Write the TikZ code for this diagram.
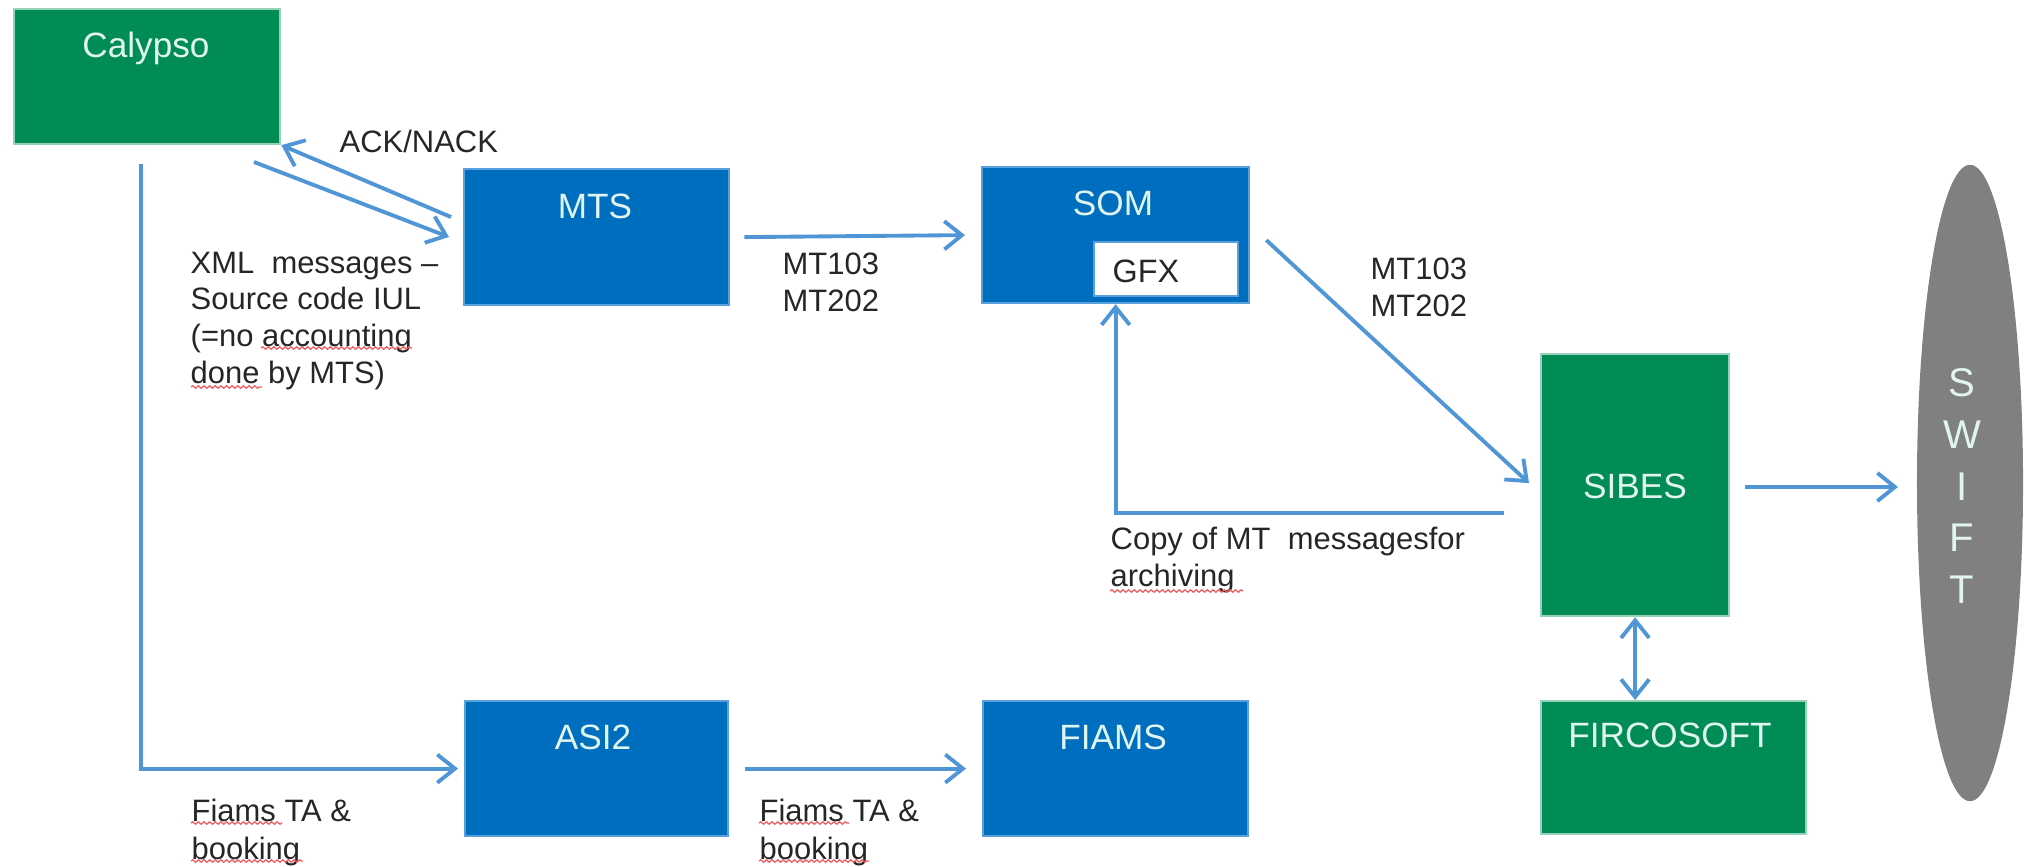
\documentclass[tikz,border=0pt]{standalone}
\usepackage{fontspec}
\setmainfont{Liberation Sans}
\usetikzlibrary{arrows.meta,shapes.geometric,decorations.pathmorphing}
\definecolor{boxgreen}{RGB}{0,140,84}
\definecolor{boxblue}{RGB}{0,110,190}
\definecolor{linkblue}{RGB}{80,150,215}
\definecolor{swiftgray}{RGB}{128,128,128}
\definecolor{bluerim}{RGB}{90,160,220}
\definecolor{greenrim}{RGB}{150,210,185}
\definecolor{txtlight}{RGB}{225,245,240}
\definecolor{spellred}{RGB}{240,90,90}
\begin{document}
\begin{tikzpicture}[x=0.01cm,y=-0.01cm,
  bluebox/.style={draw=bluerim, line width=0.6pt, fill=boxblue, anchor=north west, inner sep=0pt},
  greenbox/.style={draw=greenrim, line width=0.6pt, fill=boxgreen, anchor=north west, inner sep=0pt},
  boxtxt/.style={text=txtlight, font=\fontsize{10}{12}\selectfont, inner sep=0pt, anchor=base},
  lbl/.style={text=black!85, font=\fontsize{8.8}{10.5}\selectfont, align=left, anchor=north west, inner sep=0pt},
  link/.style={draw=linkblue, line width=1.1pt, -{Straight Barb[length=5pt,width=8pt]}},
  both/.style={draw=linkblue, line width=1.1pt, {Straight Barb[length=5pt,width=8pt]}-{Straight Barb[length=5pt,width=8pt]}},
  spell/.style={draw=spellred, line width=0.35pt, decorate, decoration={snake, amplitude=0.35pt, segment length=1.6pt}},
]
\useasboundingbox (0,0) rectangle (2024,866);

% boxes
\node[greenbox, minimum width=2.66cm, minimum height=1.35cm] (calypso) at (13,8) {};
\node[bluebox, minimum width=2.65cm, minimum height=1.36cm] (mts) at (463,168) {};
\node[bluebox, minimum width=2.67cm, minimum height=1.36cm] (som) at (981,166) {};
\node[draw=bluerim, line width=0.6pt, fill=white, anchor=north west, inner sep=0pt, minimum width=1.44cm, minimum height=0.54cm] (gfx) at (1093,241) {};
\node[greenbox, minimum width=1.88cm, minimum height=2.62cm] (sibes) at (1540,353) {};
\node[greenbox, minimum width=2.65cm, minimum height=1.33cm] (firco) at (1540,700) {};
\node[bluebox, minimum width=2.63cm, minimum height=1.35cm] (asi2) at (464,700) {};
\node[bluebox, minimum width=2.65cm, minimum height=1.35cm] (fiams) at (982,700) {};
\node[ellipse, fill=swiftgray, inner sep=0pt, minimum width=1.06cm, minimum height=6.36cm] (swift) at (1970,483) {};

% box texts
\node[boxtxt] (tcalypso) at (146,57) {Calypso};
\node[boxtxt] (tmts) at (595,218) {MTS};
\node[boxtxt] (tsom) at (1113,215) {SOM};
\node[boxtxt, text=black!85, anchor=base west, font=\fontsize{9.2}{11}\selectfont] (tgfx) at (1112,282) {GFX};
\node[boxtxt] (tsibes) at (1635,498) {SIBES};
\node[boxtxt] (tfirco) at (1670,747) {FIRCOSOFT};
\node[boxtxt] (tasi2) at (593,749) {ASI2};
\node[boxtxt] (tfiams) at (1113,749) {FIAMS};
\node[text=txtlight, font=\fontsize{11.4}{14.65}\selectfont, align=center, inner sep=0pt] (tswift) at (1962,486) {S\\W\\I\\F\\T};

% labels
\node[lbl] (lack) at (339,129) {ACK/NACK};
\node[lbl] (lxml) at (190,251) {XML\ \ messages --\\Source code IUL\\(=no accounting\\done by MTS)};
\node[lbl] (lmt1) at (782,252) {MT103\\MT202};
\node[lbl] (lmt2) at (1370,257) {MT103\\MT202};
\node[lbl] (lcopy) at (1110,526) {Copy of MT\ \ messagesfor\\archiving};
\node[lbl, font=\fontsize{8.8}{11}\selectfont] (lfia1) at (191,798) {Fiams TA \&\\booking};
\node[lbl, font=\fontsize{8.8}{11}\selectfont] (lfia2) at (759,798) {Fiams TA \&\\booking};

% spell-check underlines
\draw[spell] (261,348) -- (412,348);
\draw[spell] (191,387) -- (262,387);
\draw[spell] (1110,591) -- (1243,591);
\draw[spell] (191,823) -- (282,823);
\draw[spell] (191,861) -- (303,861);
\draw[spell] (759,823) -- (849,823);
\draw[spell] (759,861) -- (869,861);

% free ends
\coordinate (ackS) at (451,217);
\coordinate (xmlS) at (254,162);
\coordinate (xmlE) at (449,237);
\coordinate (swiftE) at (1898,487);

% connectors
\draw[link] (ackS) -- (calypso.south east);
\draw[link] (xmlS) -- (xmlE);
\draw[link] ([xshift=0.14cm]mts.east) -- ([xshift=-0.16cm]som.west);
\draw[link] ([shift={(16,5)}]som.east) -- ([shift={(-11,-2)}]sibes.west);
\draw[link] ([shift={(-36,28)}]sibes.west) -| (som.south);
\draw[link] (sibes.east |- swiftE) ++(15,0) -- (swiftE);
\draw[both] (sibes.south) -- (sibes.south |- firco.north);
\draw[link] ([shift={(-6,19)}]calypso.south) |- ([xshift=-0.06cm]asi2.west);
\draw[link] ([xshift=0.16cm]asi2.east) -- ([xshift=-0.16cm]fiams.west);
\end{tikzpicture}
\end{document}
